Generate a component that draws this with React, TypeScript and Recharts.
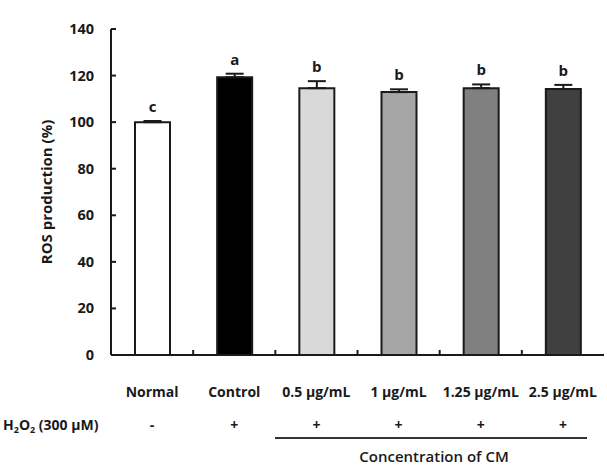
import React from 'react';
import {
  BarChart,
  Bar,
  XAxis,
  YAxis,
  ErrorBar,
  LabelList,
  Cell,
} from 'recharts';

const categories = ['Normal', 'Control', '0.5 μg/mL', '1 μg/mL', '1.25 μg/mL', '2.5 μg/mL'];
const means = [100, 119.3, 114.6, 112.9, 114.6, 114.2];
const errors = [0.5, 1.5, 3, 1.2, 1.6, 1.8];
const letters = ['c', 'a', 'b', 'b', 'b', 'b'];
const h2o2Signs = ['-', '+', '+', '+', '+', '+'];
const yTicks = [0, 20, 40, 60, 80, 100, 120, 140];

const FILLS = ['#ffffff', '#000000', '#d9d9d9', '#a6a6a6', '#808080', '#404040'];

const W = 607;
const H = 467;
const MARGIN = { top: 29, right: 3, left: 0, bottom: 0 };
const Y_WIDTH = 111;
const BAND = (W - MARGIN.left - MARGIN.right - Y_WIDTH) / categories.length;
const FONT = '"Open Sans", sans-serif';
const INK = '#1a1a1a';

const data = categories.map((name, i) => ({
  name,
  mean: means[i],
  err: [0, errors[i]],
  cap: errors[i],
  letter: letters[i],
  sign: h2o2Signs[i],
}));

const XTick = (props: any) => {
  const { x, y, payload, index } = props;
  return (
    <g>
      {index < categories.length - 1 && (
        <line x1={x + BAND / 2} x2={x + BAND / 2} y1={y} y2={y - 5} stroke={INK} strokeWidth={2} />
      )}
      <text x={x} y={y + 42} textAnchor="middle" fontSize={14} fontWeight={700} fill={INK}>
        {payload.value}
      </text>
      <text x={x} y={y + 75} textAnchor="middle" fontSize={14} fontWeight={700} fill={INK}>
        {h2o2Signs[index]}
      </text>
    </g>
  );
};

const YTick = (props: any) => {
  const { x, y, payload } = props;
  return (
    <g>
      <line x1={x} x2={x + 5} y1={y} y2={y} stroke={INK} strokeWidth={2} />
      <text x={x - 17} y={y + 5} textAnchor="end" fontSize={14.5} fontWeight={700} fill={INK}>
        {payload.value}
      </text>
    </g>
  );
};

const LetterLabel = (props: any) => {
  const { x, y, width, index } = props;
  return (
    <text x={x + width / 2} y={y - 9} textAnchor="middle" fontSize={15} fontWeight={700} fill={INK}>
      {letters[index]}
    </text>
  );
};

export default function App() {
  return (
    <div style={{ position: 'fixed', left: 0, top: 0, width: W, height: H, background: '#fff', fontFamily: FONT }}>
      <BarChart width={W} height={H} data={data} margin={MARGIN} barSize={35}>
        <XAxis
          dataKey="name"
          interval={0}
          tickLine={false}
          tickSize={0}
          tickMargin={0}
          height={467 - 355}
          tick={<XTick />}
          axisLine={{ stroke: INK, strokeWidth: 2 }}
        />
        <YAxis
          domain={[0, 140]}
          ticks={yTicks}
          width={Y_WIDTH}
          tickLine={false}
          tickSize={0}
          tickMargin={0}
          tick={<YTick />}
          axisLine={{ stroke: INK, strokeWidth: 2 }}
          label={{
            value: 'ROS production (%)',
            angle: -90,
            position: 'center',
            dx: -9,
            style: { fontSize: 15, fontWeight: 700, fill: INK, fontFamily: FONT },
          }}
        />
        <Bar dataKey="mean" stackId="s" stroke={INK} strokeWidth={2} isAnimationActive={false}>
          {data.map((d, i) => (
            <Cell key={i} fill={FILLS[i]} />
          ))}
          <ErrorBar dataKey="err" width={9} stroke={INK} strokeWidth={2} direction="y" />
        </Bar>
        <Bar dataKey="cap" stackId="s" fill="none" stroke="none" isAnimationActive={false}>
          <LabelList dataKey="letter" content={<LetterLabel />} />
        </Bar>
      </BarChart>
      <svg
        width={W}
        height={H}
        style={{ position: 'absolute', left: 0, top: 0, pointerEvents: 'none' }}
      >
        <text x={3} y={430} fontSize={14} fontWeight={700} fill={INK} fontFamily={FONT}>
          H
          <tspan fontSize={9} dy={3}>2</tspan>
          <tspan dy={-3}>O</tspan>
          <tspan fontSize={9} dy={3}>2</tspan>
          <tspan dy={-3}> (300 μM)</tspan>
        </text>
        <line x1={275} x2={587} y1={438} y2={438} stroke="#333" strokeWidth={2} />
        <text x={434} y={462} textAnchor="middle" fontSize={15} fontWeight={600} fill={INK} fontFamily={FONT}>
          Concentration of CM
        </text>
      </svg>
    </div>
  );
}
